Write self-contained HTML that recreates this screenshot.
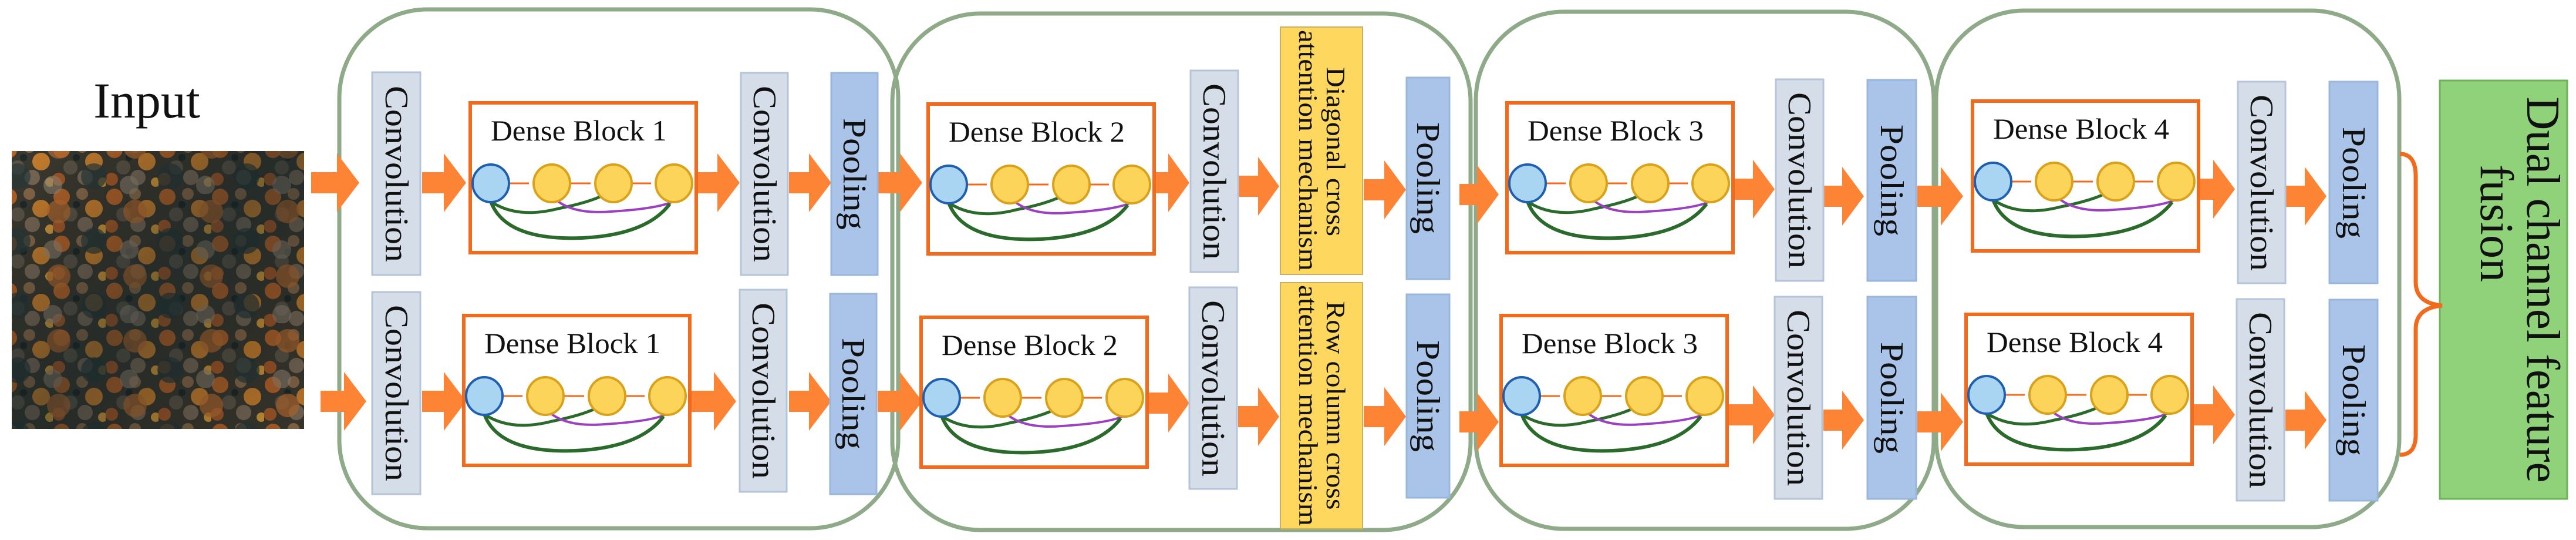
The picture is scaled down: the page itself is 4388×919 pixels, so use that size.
<!DOCTYPE html>
<html><head><meta charset="utf-8"><style>html,body{margin:0;padding:0;background:#fff}svg{display:block}</style></head>
<body>
<svg width="4388" height="919" viewBox="0 0 4388 919" xmlns="http://www.w3.org/2000/svg" font-family="'Liberation Serif', serif">
<defs>
<pattern id="forest" width="90" height="80" patternUnits="userSpaceOnUse">
<rect width="90" height="80" fill="#3c3a30"/>
<circle cx="15" cy="15" r="14" fill="#b5642a"/>
<circle cx="50" cy="10" r="10" fill="#8a6a4a"/>
<circle cx="70" cy="35" r="15" fill="#c9802f"/>
<circle cx="30" cy="45" r="12" fill="#5d5548"/>
<circle cx="10" cy="65" r="11" fill="#a55a2a"/>
<circle cx="55" cy="62" r="13" fill="#7a6a58"/>
<circle cx="85" cy="70" r="8" fill="#d29a3a"/>
<circle cx="40" cy="28" r="6" fill="#1f2a2a"/>
</pattern>
<pattern id="forest2" width="130" height="110" patternUnits="userSpaceOnUse">
<circle cx="30" cy="80" r="22" fill="#2a3a3a" opacity="0.7"/>
<circle cx="100" cy="30" r="20" fill="#c07030" opacity="0.7"/>
<circle cx="90" cy="95" r="16" fill="#9a8a78" opacity="0.6"/>
</pattern>
<linearGradient id="shade" x1="0" y1="0" x2="1" y2="1">
<stop offset="0" stop-color="#000" stop-opacity="0"/>
<stop offset="0.5" stop-color="#0a1a20" stop-opacity="0.45"/>
<stop offset="1" stop-color="#000" stop-opacity="0.1"/>
</linearGradient>
<g id="db">
<rect x="0" y="0" width="385" height="255" fill="#fff" stroke="#f26a1b" stroke-width="6"/>
<path d="M66 137 H100 M171 137 H205 M275 137 H308" stroke="#f26a1b" stroke-width="3"/>
<path d="M35 168 Q80 198 150 180 Q200 170 225 158" fill="none" stroke="#2a6a2a" stroke-width="5"/>
<path d="M150 168 Q180 190 240 185 Q320 180 345 168" fill="none" stroke="#9a40c0" stroke-width="4"/>
<path d="M35 168 Q60 235 190 230 Q300 225 340 172" fill="none" stroke="#2a6a2a" stroke-width="6"/>
<ellipse cx="35" cy="137" rx="31" ry="32" fill="#a9d4f2" stroke="#1f5fb0" stroke-width="4"/>
<ellipse cx="139" cy="137" rx="31" ry="32" fill="#fdd45a" stroke="#d9a21a" stroke-width="4"/>
<ellipse cx="244" cy="137" rx="31" ry="32" fill="#fdd45a" stroke="#d9a21a" stroke-width="4"/>
<ellipse cx="347" cy="137" rx="31" ry="32" fill="#fdd45a" stroke="#d9a21a" stroke-width="4"/>
</g>
</defs>

<!-- Input -->
<text x="250" y="200" font-size="86" text-anchor="middle" fill="#111">Input</text>
<rect x="20" y="257" width="498" height="473" fill="url(#forest)"/>
<rect x="20" y="257" width="498" height="473" fill="url(#forest2)"/>
<rect x="20" y="257" width="498" height="473" fill="url(#shade)"/>

<!-- group frames -->
<g fill="none" stroke="#8faa88" stroke-width="7">
<rect x="578" y="16" width="952" height="883" rx="150"/>
<rect x="1520" y="23" width="985" height="879" rx="150"/>
<rect x="2514" y="20" width="780" height="880" rx="150"/>
<rect x="3298" y="18" width="789" height="879" rx="150"/>
</g>

<!-- arrows -->
<g fill="#fd8434">
<path d="M530 293 H574 V261 L612 311 L574 361 V329 H530 Z"/>
<path d="M546 665 H586 V633 L624 683 L586 733 V701 H546 Z"/>
<path d="M719 293 H756 V261 L794 311 L756 361 V329 H719 Z"/>
<path d="M719 665 H756 V633 L794 683 L756 733 V701 H719 Z"/>
<path d="M1186 293 H1222 V261 L1260 311 L1222 361 V329 H1186 Z"/>
<path d="M1176 665 H1216 V633 L1254 683 L1216 733 V701 H1176 Z"/>
<path d="M1344 293 H1378 V261 L1416 311 L1378 361 V329 H1344 Z"/>
<path d="M1344 665 H1378 V633 L1416 683 L1378 733 V701 H1344 Z"/>
<path d="M1495 293 H1533 V261 L1571 311 L1533 361 V329 H1495 Z"/>
<path d="M1495 665 H1533 V633 L1571 683 L1533 733 V701 H1495 Z"/>
<path d="M1966 293 H1990 V261 L2026 311 L1990 361 V329 H1966 Z"/>
<path d="M1955 668 H1990 V636 L2026 686 L1990 736 V704 H1955 Z"/>
<path d="M2109 299 H2143 V267 L2179 317 L2143 367 V335 H2109 Z"/>
<path d="M2109 691 H2143 V659 L2179 709 L2143 759 V727 H2109 Z"/>
<path d="M2323 305 H2358 V273 L2395 323 L2358 373 V341 H2323 Z"/>
<path d="M2323 691 H2358 V659 L2395 709 L2358 759 V727 H2323 Z"/>
<path d="M2486 313 H2516 V281 L2553 331 L2516 381 V349 H2486 Z"/>
<path d="M2486 700 H2516 V668 L2553 718 L2516 768 V736 H2486 Z"/>
<path d="M2955 304 H2986 V272 L3023 322 L2986 372 V340 H2955 Z"/>
<path d="M2943 688 H2986 V656 L3023 706 L2986 756 V724 H2943 Z"/>
<path d="M3106 316 H3138 V284 L3175 334 L3138 384 V352 H3106 Z"/>
<path d="M3106 697 H3138 V665 L3175 715 L3138 765 V733 H3106 Z"/>
<path d="M3266 316 H3306 V284 L3344 334 L3306 384 V352 H3266 Z"/>
<path d="M3266 700 H3306 V668 L3344 718 L3306 768 V736 H3266 Z"/>
<path d="M3744 304 H3770 V272 L3807 322 L3770 372 V340 H3744 Z"/>
<path d="M3734 688 H3770 V656 L3807 706 L3770 756 V724 H3734 Z"/>
<path d="M3893 316 H3926 V284 L3963 334 L3926 384 V352 H3893 Z"/>
<path d="M3893 697 H3926 V665 L3963 715 L3926 765 V733 H3893 Z"/>
</g>

<!-- conv boxes -->
<g fill="#d5dde8" stroke="#b5c4d8" stroke-width="3">
<rect x="634" y="123" width="82" height="345"/>
<rect x="634" y="497" width="82" height="344"/>
<rect x="1262" y="124" width="80" height="344"/>
<rect x="1260" y="493" width="80" height="344"/>
<rect x="2028" y="120" width="81" height="343"/>
<rect x="2026" y="489" width="81" height="343"/>
<rect x="3025" y="135" width="81" height="343"/>
<rect x="3023" y="505" width="81" height="344"/>
<rect x="3812" y="139" width="81" height="343"/>
<rect x="3810" y="509" width="81" height="343"/>
</g>
<!-- pooling boxes -->
<g fill="#a9c4e8" stroke="#9ab6dc" stroke-width="3">
<rect x="1416" y="124" width="79" height="344"/>
<rect x="1414" y="500" width="79" height="341"/>
<rect x="2396" y="132" width="73" height="343"/>
<rect x="2396" y="501" width="73" height="346"/>
<rect x="3181" y="136" width="83" height="342"/>
<rect x="3181" y="505" width="83" height="344"/>
<rect x="3968" y="139" width="82" height="343"/>
<rect x="3968" y="510" width="82" height="342"/>
</g>
<!-- attention boxes -->
<g fill="#fdd75e" stroke="#c8b060" stroke-width="2">
<rect x="2181" y="46" width="140" height="421"/>
<rect x="2181" y="481" width="140" height="419"/>
</g>
<!-- fusion -->
<rect x="4156" y="137" width="217" height="712" fill="#8fd27a" stroke="#6db25a" stroke-width="3"/>
<path d="M4088 262 Q4115 262 4115 300 V480 Q4115 516 4160 520 Q4115 524 4115 560 V740 Q4115 774 4088 774" fill="none" stroke="#f26a1b" stroke-width="7"/>

<!-- dense blocks -->
<g font-size="50" text-anchor="middle" fill="#111">
<g transform="translate(801,175)"><use href="#db"/><text x="185" y="64" textLength="300" lengthAdjust="spacingAndGlyphs">Dense Block 1</text></g>
<g transform="translate(790,537)"><use href="#db"/><text x="185" y="64" textLength="300" lengthAdjust="spacingAndGlyphs">Dense Block 1</text></g>
<g transform="translate(1581,177)"><use href="#db"/><text x="185" y="64" textLength="300" lengthAdjust="spacingAndGlyphs">Dense Block 2</text></g>
<g transform="translate(1569,540)"><use href="#db"/><text x="185" y="64" textLength="300" lengthAdjust="spacingAndGlyphs">Dense Block 2</text></g>
<g transform="translate(2567,175)"><use href="#db"/><text x="185" y="64" textLength="300" lengthAdjust="spacingAndGlyphs">Dense Block 3</text></g>
<g transform="translate(2557,537)"><use href="#db"/><text x="185" y="64" textLength="300" lengthAdjust="spacingAndGlyphs">Dense Block 3</text></g>
<g transform="translate(3360,172)"><use href="#db"/><text x="185" y="64" textLength="300" lengthAdjust="spacingAndGlyphs">Dense Block 4</text></g>
<g transform="translate(3349,535)"><use href="#db"/><text x="185" y="64" textLength="300" lengthAdjust="spacingAndGlyphs">Dense Block 4</text></g>
</g>

<!-- vertical labels -->
<g font-size="56" text-anchor="middle" fill="#111">
<text transform="translate(657,296) rotate(90)" textLength="300" lengthAdjust="spacingAndGlyphs">Convolution</text>
<text transform="translate(657,669) rotate(90)" textLength="300" lengthAdjust="spacingAndGlyphs">Convolution</text>
<text transform="translate(1284,296) rotate(90)" textLength="300" lengthAdjust="spacingAndGlyphs">Convolution</text>
<text transform="translate(1282,665) rotate(90)" textLength="300" lengthAdjust="spacingAndGlyphs">Convolution</text>
<text transform="translate(2050,292) rotate(90)" textLength="300" lengthAdjust="spacingAndGlyphs">Convolution</text>
<text transform="translate(2048,661) rotate(90)" textLength="300" lengthAdjust="spacingAndGlyphs">Convolution</text>
<text transform="translate(3047,307) rotate(90)" textLength="300" lengthAdjust="spacingAndGlyphs">Convolution</text>
<text transform="translate(3045,677) rotate(90)" textLength="300" lengthAdjust="spacingAndGlyphs">Convolution</text>
<text transform="translate(3834,311) rotate(90)" textLength="300" lengthAdjust="spacingAndGlyphs">Convolution</text>
<text transform="translate(3832,681) rotate(90)" textLength="300" lengthAdjust="spacingAndGlyphs">Convolution</text>
<text transform="translate(1437,296) rotate(90)" textLength="190" lengthAdjust="spacingAndGlyphs">Pooling</text>
<text transform="translate(1435,670) rotate(90)" textLength="190" lengthAdjust="spacingAndGlyphs">Pooling</text>
<text transform="translate(2414,303) rotate(90)" textLength="190" lengthAdjust="spacingAndGlyphs">Pooling</text>
<text transform="translate(2414,674) rotate(90)" textLength="190" lengthAdjust="spacingAndGlyphs">Pooling</text>
<text transform="translate(3204,307) rotate(90)" textLength="190" lengthAdjust="spacingAndGlyphs">Pooling</text>
<text transform="translate(3204,677) rotate(90)" textLength="190" lengthAdjust="spacingAndGlyphs">Pooling</text>
<text transform="translate(3991,311) rotate(90)" textLength="190" lengthAdjust="spacingAndGlyphs">Pooling</text>
<text transform="translate(3991,681) rotate(90)" textLength="190" lengthAdjust="spacingAndGlyphs">Pooling</text>
</g>
<g font-size="46" text-anchor="middle" fill="#111">
<text transform="translate(2260,258) rotate(90)" textLength="288" lengthAdjust="spacingAndGlyphs">Diagonal cross</text>
<text transform="translate(2213,256) rotate(90)" textLength="410" lengthAdjust="spacingAndGlyphs">attention mechanism</text>
<text transform="translate(2260,690) rotate(90)" textLength="355" lengthAdjust="spacingAndGlyphs">Row column cross</text>
<text transform="translate(2213,690) rotate(90)" textLength="410" lengthAdjust="spacingAndGlyphs">attention mechanism</text>
</g>
<g font-size="80" text-anchor="middle" fill="#111">
<text transform="translate(4305,493) rotate(90)" textLength="657" lengthAdjust="spacingAndGlyphs">Dual channel feature</text>
<text transform="translate(4226,380) rotate(90)">fusion</text>
</g>
</svg>
</body></html>
